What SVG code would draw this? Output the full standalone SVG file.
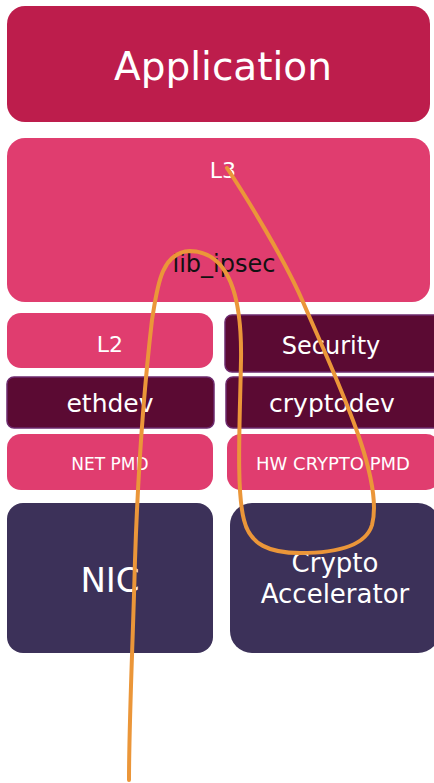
<svg xmlns="http://www.w3.org/2000/svg" width="434" height="783" viewBox="0 0 434 783">
<style>
text{font-family:"DejaVu Sans","Liberation Sans",sans-serif;text-anchor:middle;fill:#fff}
.app{fill:#bd1d4c}
.pink{fill:#e03d6f}
.dark{fill:#5b0a33;stroke:#6e2a6e;stroke-width:1.5}
.navy{fill:#3c3159}
.path{fill:none;stroke:#eb9639;stroke-width:4;stroke-linecap:round;stroke-linejoin:round}
</style>
<rect width="434" height="783" fill="#fff"/>
<g id="application"><rect class="app" x="7" y="6" width="423" height="116" rx="18"/><text x="223" y="80" font-size="39">Application</text></g>
<g id="l3"><rect class="pink" x="7" y="138" width="423" height="164" rx="18"/><text x="223" y="178" font-size="22">L3</text><text x="224" y="272" font-size="24" style="fill:#111">lib_ipsec</text></g>
<g id="l2"><rect class="pink" x="7" y="313" width="206" height="55" rx="14"/><text x="110" y="352" font-size="22">L2</text></g>
<g id="security"><rect class="dark" x="225" y="315" width="215" height="57" rx="7"/><text x="331" y="354" font-size="24">Security</text></g>
<g id="ethdev"><rect class="dark" x="7" y="377" width="207" height="51" rx="7"/><text x="110" y="412" font-size="25">ethdev</text></g>
<g id="cryptodev"><rect class="dark" x="226" y="377" width="214" height="51" rx="7"/><text x="332" y="412" font-size="25">cryptodev</text></g>
<g id="netpmd"><rect class="pink" x="7" y="434" width="206" height="56" rx="14"/><text x="110" y="470" font-size="17">NET PMD</text></g>
<g id="hwcryptopmd"><rect class="pink" x="227" y="434" width="213" height="56" rx="14"/><text x="333" y="470" font-size="18">HW CRYPTO PMD</text></g>
<g id="nic"><rect class="navy" x="7" y="503" width="206" height="150" rx="16"/><text x="110" y="592" font-size="34">NIC</text></g>
<g id="crypto-accelerator"><rect class="navy" x="230" y="503" width="210" height="150" rx="22"/><text x="335" y="572" font-size="26">Crypto</text><text x="335" y="603" font-size="26">Accelerator</text></g>
<g id="connectors"><path class="path" d="M227,168 C245,195 285,260 303,302 S345,395 360,440 S376,510 372,525 C365,548 330,553 300,553 C270,553 250,545 244,520 C236,490 240,420 241,360 C242,300 230,252 190,251 C160,252 157,290 152,320 C145,380 138,470 135,560 C133,640 129,720 129,780"/></g>
</svg>
